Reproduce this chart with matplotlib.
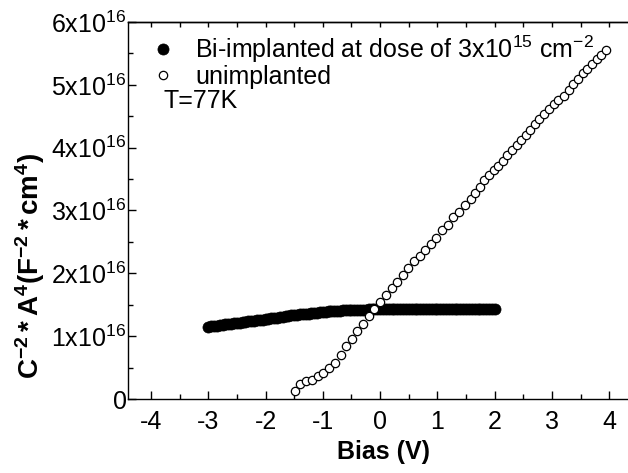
import matplotlib
matplotlib.use("Agg")
import matplotlib.pyplot as plt
from matplotlib.ticker import MultipleLocator, FixedLocator

plt.rcParams['font.family'] = ['Liberation Sans', 'DejaVu Sans']
plt.rcParams['mathtext.fontset'] = 'custom'
plt.rcParams['mathtext.rm'] = 'Liberation Sans'
plt.rcParams['mathtext.it'] = 'Liberation Sans:italic'
plt.rcParams['mathtext.bf'] = 'Liberation Sans:bold'
plt.rcParams['axes.unicode_minus'] = False

# Bi-implanted (units of 1e16)
bias_bi = [-3.00, -2.95, -2.90, -2.85, -2.80, -2.75, -2.70, -2.65, -2.60, -2.55,
           -2.50, -2.45, -2.40, -2.35, -2.30, -2.25, -2.20, -2.15, -2.10, -2.05,
           -2.00, -1.95, -1.90, -1.85, -1.80, -1.75, -1.70, -1.65, -1.60, -1.55,
           -1.50, -1.45, -1.40, -1.35, -1.30, -1.25, -1.20, -1.15, -1.10, -1.05,
           -1.00, -0.95, -0.90, -0.85, -0.80, -0.75, -0.70, -0.65, -0.60, -0.55,
           -0.50, -0.45, -0.40, -0.35, -0.30, -0.25, -0.20, -0.15, -0.10, -0.05,
           0.00, 0.05, 0.10, 0.15, 0.20, 0.25, 0.30, 0.35, 0.40, 0.45,
           0.50, 0.55, 0.60, 0.65, 0.70, 0.75, 0.80, 0.85, 0.90, 0.95,
           1.00, 1.05, 1.10, 1.15, 1.20, 1.25, 1.30, 1.35, 1.40, 1.45,
           1.50, 1.55, 1.60, 1.65, 1.70, 1.75, 1.80, 1.85, 1.90, 1.95, 2.00]
cap_bi = [1.150, 1.156, 1.162, 1.168, 1.174, 1.180, 1.186, 1.192, 1.198, 1.204,
          1.210, 1.216, 1.222, 1.228, 1.234, 1.240, 1.246, 1.252, 1.258, 1.264,
          1.270, 1.277, 1.284, 1.290, 1.297, 1.303, 1.310, 1.316, 1.323, 1.329,
          1.335, 1.340, 1.345, 1.350, 1.355, 1.360, 1.365, 1.370, 1.375, 1.380,
          1.385, 1.389, 1.393, 1.397, 1.400, 1.404, 1.407, 1.410, 1.413, 1.416,
          1.418, 1.420, 1.421, 1.422, 1.423, 1.424, 1.425, 1.426, 1.427, 1.427,
          1.428, 1.428, 1.428, 1.429, 1.429, 1.429, 1.429, 1.429, 1.430, 1.430,
          1.430, 1.430, 1.430, 1.430, 1.430, 1.430, 1.430, 1.430, 1.430, 1.430,
          1.430, 1.430, 1.430, 1.430, 1.430, 1.430, 1.430, 1.430, 1.430, 1.430,
          1.430, 1.430, 1.430, 1.430, 1.430, 1.430, 1.430, 1.430, 1.430, 1.430, 1.430]

# Unimplanted (units of 1e16)
bias_un = [-1.48, -1.39, -1.29, -1.19, -1.09, -0.99, -0.89, -0.79, -0.69, -0.59,
           -0.49, -0.40, -0.30, -0.20, -0.10, 0.00, 0.10, 0.20, 0.30, 0.40,
           0.49, 0.59, 0.69, 0.79, 0.88, 0.98, 1.08, 1.18, 1.28, 1.38,
           1.48, 1.58, 1.66, 1.74, 1.81, 1.90, 1.98, 2.06, 2.14, 2.22,
           2.30, 2.38, 2.46, 2.54, 2.62, 2.70, 2.78, 2.86, 2.94, 3.03,
           3.11, 3.20, 3.29, 3.37, 3.45, 3.54, 3.61, 3.69, 3.78, 3.86, 3.94]
cap_un = [0.12, 0.24, 0.28, 0.31, 0.37, 0.42, 0.49, 0.58, 0.70, 0.84,
          0.96, 1.08, 1.20, 1.32, 1.43, 1.55, 1.66, 1.77, 1.86, 1.97,
          2.08, 2.19, 2.28, 2.37, 2.47, 2.57, 2.69, 2.77, 2.89, 2.98,
          3.08, 3.18, 3.28, 3.38, 3.49, 3.56, 3.64, 3.71, 3.79, 3.88,
          3.96, 4.04, 4.12, 4.20, 4.28, 4.38, 4.46, 4.54, 4.61, 4.69,
          4.76, 4.82, 4.92, 5.01, 5.10, 5.19, 5.25, 5.33, 5.41, 5.48, 5.56]

x_ticks = [-4, -3, -2, -1, 0, 1, 2, 3, 4]
y_ticks = [0, 1, 2, 3, 4, 5, 6]
y_ticklabels = ['0'] + [r'$\mathregular{%dx10^{16}}$' % v for v in y_ticks[1:]]

fig = plt.figure(figsize=(6.28, 4.73), dpi=100)
ax = fig.add_axes([128/628, 1 - 399/473, 510/628, 377/473])

ax.plot(bias_bi, cap_bi, linestyle='none', marker='o', ms=8.0, mfc='black',
        mec='black', mew=0.5, label=r'Bi-implanted at dose of 3x10$^{15}$ cm$^{-2}$')
ax.plot(bias_un, cap_un, linestyle='none', marker='o', ms=6.0, mfc='white',
        mec='black', mew=0.9, label='unimplanted')

ax.set_xlim(-4.4, 4.5)
ax.set_ylim(0, 6)
ax.xaxis.set_major_locator(FixedLocator(x_ticks))
ax.xaxis.set_minor_locator(MultipleLocator(0.5))
ax.yaxis.set_major_locator(FixedLocator(y_ticks))
ax.yaxis.set_minor_locator(MultipleLocator(0.5))
ax.set_xticklabels([str(v) for v in x_ticks])
ax.set_yticklabels(y_ticklabels)

for s in ax.spines.values():
    s.set_linewidth(1.0)

ax.tick_params(axis='both', which='major', direction='in', length=6, width=1.0,
               labelsize=18)
ax.tick_params(axis='x', which='major', pad=8)
ax.tick_params(axis='y', which='major', pad=1)
ax.tick_params(axis='both', which='minor', direction='in', length=3.5, width=1.0)
ax.tick_params(axis='x', which='both', top=False)
ax.tick_params(axis='y', which='both', right=False)

sec = ax.secondary_xaxis('top')
sec.xaxis.set_major_locator(MultipleLocator(0.5))
sec.tick_params(direction='in', length=3.5, width=1.0, labeltop=False)
sec.spines['top'].set_linewidth(1.0)

ax.set_xlabel('Bias (V)', fontsize=18, fontweight='bold', labelpad=4)
fig.text(30/628, 1 - 266/473, r'$\mathbf{C^{-2}*A^{4}(F^{-2}*cm^{4})}$',
         fontsize=20, rotation=90, ha='center', va='center')

leg = ax.legend(loc='upper left', bbox_to_anchor=(6/510, 1.0), frameon=False,
                fontsize=18, handletextpad=0.6, borderaxespad=0.05,
                labelspacing=0.0, handlelength=1.4, markerscale=1.0)

ax.text(163/628, 1 - 101/473, 'T=77K', transform=fig.transFigure, fontsize=18,
        va='center', ha='left')

fig.savefig('out.png', dpi=100)
